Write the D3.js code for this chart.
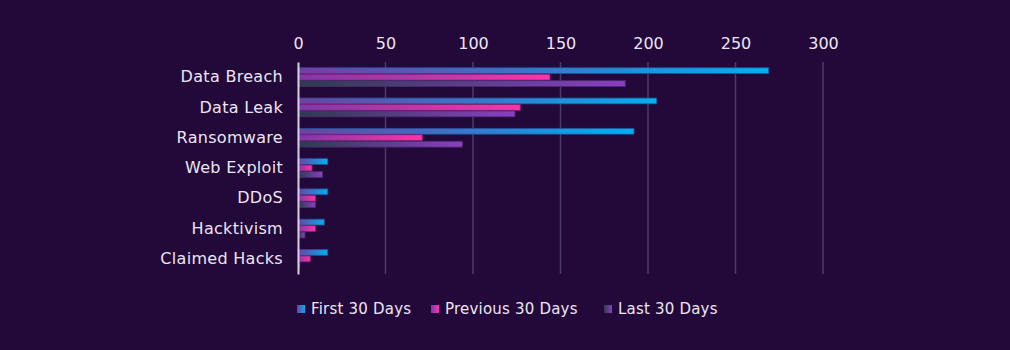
<!DOCTYPE html>
<html>
<head>
<meta charset="utf-8">
<script src="https://cdn.jsdelivr.net/npm/d3@7"></script>
<style>
  html, body { margin: 0; padding: 0; background: #23083a; }
  svg text { font-family: "DejaVu Sans", sans-serif; fill: #ece6f2; }
</style>
</head>
<body>
<div id="chart"></div>
<script>
// Chart data
const categories = ["Data Breach", "Data Leak", "Ransomware", "Web Exploit", "DDoS", "Hacktivism", "Claimed Hacks"];
const seriesNames = ["First 30 Days", "Previous 30 Days", "Last 30 Days"];
const firstDays = [269, 205, 192, 17, 17, 15, 17];
const previousDays = [144, 127, 71, 8, 10, 10, 7];
const lastDays = [187, 124, 94, 14, 10, 4, 1];
const tickValues = [0, 50, 100, 150, 200, 250, 300];

const width = 1010;
const height = 350;

// gradient stops per series (left -> right)
const gradients = [
    { id: "g-first", from: "#7040a2", to: "#00b0f0", stroke: "#1f4f96" },
    { id: "g-prev", from: "#7a3aa8", to: "#ff33aa", stroke: "#8a2070" },
    { id: "g-last", from: "#2c3c4e", to: "#8a3fc2", stroke: "#4a2a70" }
];

const rows = categories.map((c, i) => ({
    category: c,
    values: [firstDays[i], previousDays[i], lastDays[i]]
}));

const svg = d3.select("#chart")
    .append("svg")
    .attr("width", width)
    .attr("height", height);

const defs = svg.append("defs");
gradients.forEach(g => {
    const lg = defs.append("linearGradient")
        .attr("id", g.id)
        .attr("x1", "0%").attr("x2", "100%")
        .attr("y1", "0%").attr("y2", "0%");
    lg.append("stop").attr("offset", "0%").attr("stop-color", g.from);
    lg.append("stop").attr("offset", "100%").attr("stop-color", g.to);
});

// Scales
const x = d3.scaleLinear()
    .domain([0, 300])
    .range([298, 823]);

const y = d3.scaleBand()
    .domain(categories)
    .range([62, 274])
    .paddingInner(0.36)
    .paddingOuter(0.18);

const ySub = d3.scaleBand()
    .domain(d3.range(seriesNames.length))
    .range([0, y.bandwidth()]);

// Gridlines
svg.append("g")
    .selectAll("line")
    .data(tickValues.slice(1))
    .join("line")
    .attr("x1", d => x(d)).attr("x2", d => x(d))
    .attr("y1", 62).attr("y2", 274)
    .attr("stroke", "#4d3a6c")
    .attr("stroke-width", 1.5);

// Top axis labels
const xAxis = svg.append("g")
    .attr("transform", "translate(0,51)")
    .call(d3.axisTop(x).tickValues(tickValues).tickSize(0).tickPadding(0));
xAxis.select(".domain").remove();
xAxis.selectAll("text")
    .attr("font-size", 16)
    .attr("dy", "-0.1em")
    .style("fill", "#ece6f2");

// Bars
const groups = svg.append("g")
    .selectAll("g")
    .data(rows)
    .join("g")
    .attr("transform", d => `translate(0,${y(d.category)})`);

groups.selectAll("rect")
    .data(d => d.values.map((v, i) => ({ v, i })))
    .join("rect")
    .attr("x", x(0))
    .attr("y", d => ySub(d.i) + 0.3)
    .attr("width", d => x(d.v) - x(0))
    .attr("height", ySub.bandwidth() - 0.6)
    .attr("fill", d => `url(#${gradients[d.i].id})`)
    .attr("stroke", d => gradients[d.i].stroke)
    .attr("stroke-width", 0.8);

// Category labels + axis line
const yAxis = svg.append("g")
    .attr("transform", `translate(${x(0)},0)`)
    .call(d3.axisLeft(y).tickSize(0).tickPadding(15));
yAxis.select(".domain")
    .attr("stroke", "#d8d0e0")
    .attr("stroke-width", 2);
yAxis.selectAll("text")
    .attr("font-size", 16)
    .attr("letter-spacing", "0.3px")
    .style("fill", "#ece6f2");

// Legend
const legendX = [297, 431, 604];
const legend = svg.append("g")
    .selectAll("g")
    .data(seriesNames)
    .join("g")
    .attr("transform", (d, i) => `translate(${legendX[i]},309)`);

legend.append("rect")
    .attr("x", 0).attr("y", -4)
    .attr("width", 8).attr("height", 8)
    .attr("fill", (d, i) => `url(#${gradients[i].id})`);

legend.append("text")
    .attr("x", 14)
    .attr("dy", "0.35em")
    .attr("font-size", 15)
    .attr("letter-spacing", "0.2px")
    .text(d => d);
</script>
</body>
</html>
